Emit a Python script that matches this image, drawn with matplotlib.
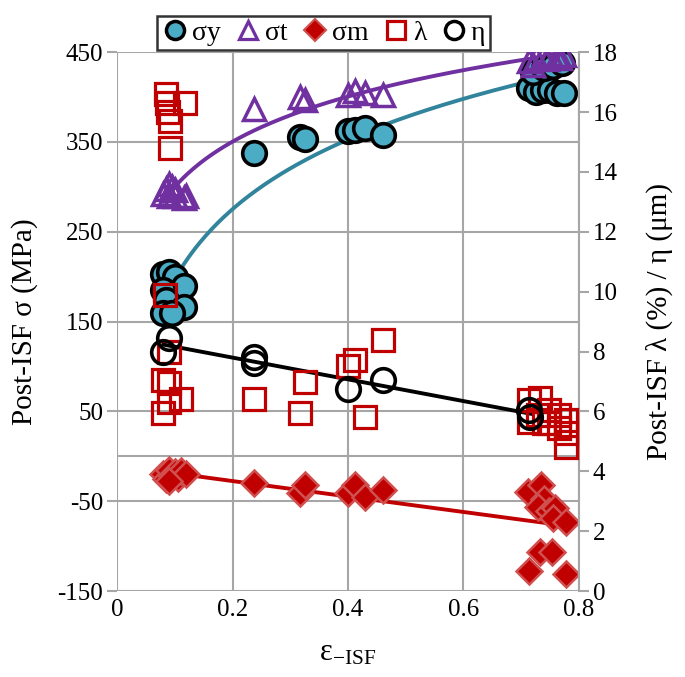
import numpy as np
import matplotlib
matplotlib.use("Agg")
import matplotlib.pyplot as plt
from matplotlib.lines import Line2D

plt.rcParams['font.family'] = ['Liberation Serif', 'DejaVu Serif']
plt.rcParams['mathtext.fontset'] = 'custom'
plt.rcParams['mathtext.rm'] = 'Liberation Serif'
plt.rcParams['mathtext.it'] = 'Liberation Serif:italic'
plt.rcParams['axes.unicode_minus'] = False

# yield strength (left axis)
sy_x = [0.08, 0.09, 0.10, 0.115, 0.08, 0.085, 0.115, 0.08, 0.095,
        0.237, 0.317, 0.326, 0.40, 0.413, 0.429, 0.461,
        0.713, 0.725, 0.738, 0.75, 0.762, 0.775, 0.72, 0.74, 0.755, 0.77]
sy_y = [203, 205, 200, 190, 185, 174, 166, 159, 160,
        338, 355, 353, 362, 363, 365, 358,
        410, 406, 408, 408, 405, 404, 428, 432, 435, 438]

# tensile strength (left axis)
st_x = [0.08, 0.085, 0.09, 0.095, 0.09, 0.10, 0.10, 0.115, 0.12,
        0.237, 0.317, 0.326, 0.40, 0.413, 0.429, 0.461,
        0.713, 0.725, 0.738, 0.75, 0.762, 0.775, 0.72, 0.745, 0.768]
st_y = [292, 298, 303, 300, 290, 296, 290, 288, 290,
        387, 400, 397, 402, 407, 405, 402,
        440, 444, 446, 448, 445, 447, 436, 442, 444]

# mean stress (left axis)
sm_x = [0.08, 0.085, 0.09, 0.095, 0.10, 0.105, 0.11, 0.12, 0.09,
        0.237, 0.317, 0.326, 0.40, 0.413, 0.429, 0.461,
        0.712, 0.735, 0.739, 0.729, 0.748, 0.759, 0.756, 0.777,
        0.733, 0.754, 0.713, 0.777]
sm_y = [-20, -25, -15, -22, -18, -24, -16, -20, -28,
        -30, -41, -32, -41, -32, -45, -38,
        -40, -32, -47, -57, -61, -58, -69, -73,
        -107, -106, -128, -131]

# lambda (right axis)
lam_x = [0.084, 0.087, 0.118, 0.089, 0.092, 0.092, 0.083, 0.09, 0.08, 0.09, 0.11, 0.09, 0.08,
         0.237, 0.317, 0.326, 0.40, 0.413, 0.429, 0.461,
         0.713, 0.733, 0.713, 0.730, 0.748, 0.748, 0.765, 0.765, 0.777, 0.777, 0.777, 0.739]
lam_y = [16.6, 16.3, 16.3, 16.0, 15.7, 14.8, 9.9, 8.0, 7.05, 6.95, 6.4, 6.3, 5.95,
         6.4, 5.95, 6.97, 7.5, 7.7, 5.8, 8.4,
         6.38, 6.44, 5.65, 5.88, 6.05, 5.6, 5.88, 5.44, 5.71, 5.27, 4.82, 5.6]

# eta (right axis)
eta_x = [0.08, 0.09, 0.237, 0.237, 0.40, 0.461, 0.713, 0.716]
eta_y = [7.99, 8.44, 7.83, 7.6, 6.75, 7.05, 6.05, 5.82]

teal = '#4BACC6'
teal_line = '#31849B'
purple = '#7030A0'
red = '#C00000'
grid = '#A6A6A6'

fig = plt.figure(figsize=(6.85, 6.77), dpi=100)
ax = fig.add_subplot(111)
fig.subplots_adjust(left=0.171, right=0.845, bottom=0.127, top=0.923)
ax2 = ax.twinx()

ax.set_xlim(0, 0.8)
ax.set_ylim(-150, 450)
ax2.set_ylim(0, 18)
ax.set_xticks([0, 0.2, 0.4, 0.6, 0.8])
ax.set_xticklabels(['0', '0.2', '0.4', '0.6', '0.8'])
ax.set_yticks([-150, -50, 50, 150, 250, 350, 450])
ax2.set_yticks(range(0, 19, 2))

ax.grid(True, color=grid, lw=1.5)
ax.set_axisbelow(True)
ax.axhline(0, color=grid, lw=1.5, zorder=0.5)
for a in (ax, ax2):
    for s in a.spines.values():
        s.set_visible(False)
ax2.spines['right'].set_visible(True)
ax2.spines['right'].set_color(grid)
ax2.spines['right'].set_linewidth(1.5)

ax.tick_params(axis='y', direction='out', length=7, width=1.5, color=grid, labelsize=18, pad=3)
ax.tick_params(axis='x', length=0, labelsize=18, pad=6)
ax2.tick_params(axis='y', direction='out', length=7, width=1.5, color=grid, labelsize=18, pad=3)

# fitted trend lines
xs = np.linspace(min(sy_x), max(sy_x), 200)
c = np.polyfit(np.log(sy_x), sy_y, 1)
ax.plot(xs, c[0] * np.log(xs) + c[1], color=teal_line, lw=2.8, zorder=2)
xs = np.linspace(min(st_x), max(st_x), 200)
c = np.polyfit(np.log(st_x), st_y, 1)
ax.plot(xs, c[0] * np.log(xs) + c[1], color=purple, lw=2.8, zorder=2)
xs = np.linspace(min(sm_x), max(sm_x), 2)
c = np.polyfit(sm_x, sm_y, 1)
ax.plot(xs, np.polyval(c, xs), color=red, lw=2.8, zorder=2)
xs = np.linspace(min(eta_x), max(eta_x), 2)
c = np.polyfit(eta_x, eta_y, 1)
ax2.plot(xs, np.polyval(c, xs), color='black', lw=2.8, zorder=2)

ax.plot(sy_x, sy_y, 'o', ms=17, mfc=teal, mec='black', mew=2.6, ls='none', zorder=3)
ax.plot(st_x, st_y, '^', ms=16, mfc='none', mec=purple, mew=2.5, ls='none', zorder=3)
ax.plot(sm_x, sm_y, 'D', ms=13, mfc=red, mec='#D05050', mew=1.8, ls='none', zorder=3)
ax2.plot(lam_x, lam_y, 's', ms=16, mfc='none', mec=red, mew=2.3, ls='none', zorder=3)
ax2.plot(eta_x, eta_y, 'o', ms=17, mfc='none', mec='black', mew=2.6, ls='none', zorder=4)

ax.set_ylabel('Post-ISF σ (MPa)', fontsize=21, labelpad=14)
ax2.set_ylabel('Post-ISF λ (%) / η (μm)', fontsize=21, labelpad=20)
ax.set_xlabel('ε$_{\\mathregular{-ISF}}$', fontsize=22, labelpad=12)

handles = [
    Line2D([], [], marker='o', ms=13, mfc=teal, mec='black', mew=2.5, ls='none'),
    Line2D([], [], marker='^', ms=13, mfc='none', mec=purple, mew=2.3, ls='none'),
    Line2D([], [], marker='D', ms=11, mfc=red, mec='#D05050', mew=1.5, ls='none'),
    Line2D([], [], marker='s', ms=13, mfc='none', mec=red, mew=2.3, ls='none'),
    Line2D([], [], marker='o', ms=13, mfc='none', mec='black', mew=2.5, ls='none'),
]
labels = ['σy', 'σt', 'σm', 'λ', 'η']
leg = fig.legend(handles, labels, loc='upper center', bbox_to_anchor=(0.472, 0.997),
                 ncol=5, fontsize=20, frameon=True, fancybox=False, edgecolor='black',
                 handletextpad=0.1, columnspacing=0.5, borderpad=0.15, handlelength=1.0)
leg.get_frame().set_linewidth(1.8)

fig.savefig('out.png', dpi=100)
